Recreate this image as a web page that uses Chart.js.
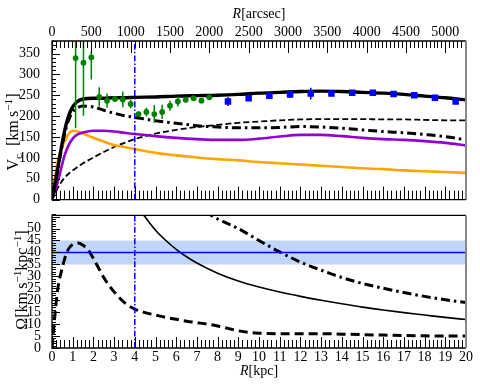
<!DOCTYPE html>
<html>
<head>
<meta charset="utf-8">
<script src="https://cdn.jsdelivr.net/npm/chart.js@4/dist/chart.umd.min.js"></script>
<style>
  html, body { margin: 0; padding: 0; background: #fff; }
  #wrap { position: relative; width: 480px; height: 392px; overflow: hidden; font-family: "Liberation Serif", serif; color: #000; }
  canvas { position: absolute; left: 0; }
  #cTop { top: 0; }
  #cBot { top: 204px; }
  .lbl { position: absolute; font-size: 14px; white-space: nowrap; line-height: 1; }
  .big { font-size: 16px; }
  .ctr { transform: translate(-50%, -50%); }
  .rot { transform: translate(-50%, -50%) rotate(-90deg); }
  sub, sup { font-size: 70%; line-height: 0; }
</style>
</head>
<body>
<div id="wrap">
  <canvas id="cTop" width="480" height="212"></canvas>
  <canvas id="cBot" width="480" height="188"></canvas>
  <div class="lbl ctr" style="left:259px;top:14px;"><i>R</i>[arcsec]</div>
  <div class="lbl ctr" style="left:259px;top:371px;"><i>R</i>[kpc]</div>
  <div class="lbl big rot" style="left:13px;top:132px;">V<sub>c</sub>&nbsp;&nbsp;[km&thinsp;s<sup>−1</sup>]</div>
  <div class="lbl big rot" style="left:22px;top:280px;">Ω[km&thinsp;s<sup>−1</sup>kpc<sup>−1</sup>]</div>
</div>
<script>
// ---- axes ----
const KPC_MAX = 20;
const ARCSEC_MAX = 5263;
const V_MAX = 380;
const OM_MAX = 55.5;
const arcsecTicks = [0, 500, 1000, 1500, 2000, 2500, 3000, 3500, 4000, 4500, 5000];
const kpcTicks = [0, 1, 2, 3, 4, 5, 6, 7, 8, 9, 10, 11, 12, 13, 14, 15, 16, 17, 18, 19, 20];
const vTicks = [0, 50, 100, 150, 200, 250, 300, 350];
const omTicks = [0, 5, 10, 15, 20, 25, 30, 35, 40, 45, 50];

// ---- rotation curve components (kpc, km/s) ----
const rV = [0, 0.1, 0.2, 0.4, 0.6, 0.8, 1.0, 1.2, 1.5, 2, 2.5, 3, 3.5, 4, 5, 6, 7, 8, 9, 10, 11, 12, 13, 14, 15, 16, 17, 18, 19, 20];
const vTotal   = [0, 25, 52, 110, 163, 200, 222, 234, 241, 243, 243, 244, 244, 245, 246, 248, 249, 250, 252, 255, 257, 259, 260, 259, 257, 255, 252, 248, 244, 239];
const vDashDot = [0, 24, 50, 105, 155, 190, 210, 219, 224, 222, 214, 207, 201, 197, 189, 183, 177, 174, 172, 172, 173, 175, 174, 171, 167, 163, 160, 156, 151, 143];
const vPurple  = [0, 12, 28, 66, 105, 130, 146, 155, 161, 165, 165, 163, 160, 157, 152, 148, 145, 143, 143, 146, 151, 155, 155, 152, 148, 145, 143, 140, 136, 130];
const vOrange  = [0, 38, 72, 115, 138, 157, 165, 164, 158, 148, 139, 131, 126, 121, 112, 106, 101, 97, 94, 90, 87, 84, 81, 78, 75, 73, 70, 68, 66, 64];
const vDashed  = [0, 10, 20, 38, 52, 62, 70, 77, 87, 101, 114, 126, 136, 145, 158, 167, 174, 179, 184, 187, 190, 192, 193, 193, 193, 192, 192, 191, 190, 190];

// ---- observed points ----
const greenArcsec = [300, 400, 500, 600, 700, 800, 900, 1000, 1100, 1200, 1300, 1400, 1500, 1600, 1700, 1800, 1900, 2000];
const greenV      = [339, 328, 341, 246, 237, 241, 240, 229, 205, 210, 205, 210, 225, 235, 239, 243, 237, 245];
const greenErrLo  = [168, 127, 53, 23, 17, 6, 19, 10, 6, 10, 21, 17, 12, 12, 6, 4, 4, 4];
const greenErrHi  = [80, 80, 15, 23, 17, 6, 19, 10, 6, 10, 21, 17, 12, 12, 6, 4, 4, 4];
const blueR   = [8.5, 9.5, 10.5, 11.5, 12.5, 13.5, 14.5, 15.5, 16.5, 17.5, 18.5, 19.5];
const blueV   = [235, 243, 249, 252, 254, 254, 256, 256, 253, 250, 244, 235];
const blueErr = [11, 4, 4, 8, 14, 4, 4, 4, 4, 4, 4, 4];

// ---- pattern speed panel (kpc, km/s/kpc) ----
const omSolidR = [4.2, 4.5, 5, 5.5, 6, 6.5, 7, 8, 9, 10, 11, 12, 13, 14, 15, 16, 17, 18, 19, 20];
const omSolid  = [58.5, 54.8, 49.3, 45, 41.3, 38.2, 35.6, 31.3, 28, 25.5, 23.4, 21.6, 20, 18.5, 17.1, 15.9, 14.8, 13.8, 12.8, 11.9];
const omDashDotR = [7.4, 8, 8.5, 9, 10, 11, 12, 13, 14, 15, 16, 17, 18, 19, 20];
const omDashDot  = [57, 54, 52, 50, 45, 40.2, 36, 32.6, 29.5, 27, 25, 23.2, 21.6, 20.2, 19];
const omDashedR = [0, 0.1, 0.2, 0.3, 0.45, 0.6, 0.8, 1.0, 1.25, 1.5, 1.75, 2.0, 2.25, 2.5, 2.75, 3.0, 3.5, 4.0, 4.5, 5, 5.5, 6, 6.5, 7, 7.5, 8, 8.5, 9, 9.5, 10, 11, 12, 13, 14, 15, 16, 17, 18, 19, 20];
const omDashed  = [0, 10, 19, 26, 32, 37, 41.5, 43.3, 43.9, 43, 41, 37.5, 33.5, 29.5, 26.3, 23.5, 19, 16.3, 14.8, 13.8, 12.8, 12, 11.2, 10.6, 10, 9.2, 8.2, 7.2, 6.5, 6.2, 6, 6, 6, 5.8, 5.6, 5.4, 5.2, 5.1, 5, 5];
const bandR = [0, 20];
const bandLo = 35, bandMid = 40, bandHi = 45;
const corotR = 4;

const pts = (xs, ys) => xs.map((x, i) => ({ x, y: ys[i] }));
const useTicks = (list) => (s) => { s.ticks = list.map((v) => ({ value: v })); };

Chart.defaults.font.family = "'Liberation Serif', serif";
Chart.defaults.font.size = 14;
Chart.defaults.color = "#000";

// inner tick marks + frame, matplotlib style
const innerTicks = {
  id: "innerTicks",
  afterDatasetsDraw(chart, args, opts) {
    const { ctx, chartArea: a } = chart;
    ctx.save();
    ctx.strokeStyle = "#000";
    ctx.lineWidth = 1;
    (opts.marks || []).forEach((m) => {
      const sc = chart.scales[m.axis];
      const n = Math.round((sc.max - sc.min) / m.minor);
      for (let i = 0; i <= n; i++) {
        const v = sc.min + i * m.minor;
        const q = v / m.major;
        const len = Math.abs(q - Math.round(q)) < 1e-6 ? m.lenMajor : m.lenMinor;
        const p = Math.round(sc.getPixelForValue(v)) + 0.5;
        ctx.beginPath();
        if (m.edge === "top") { ctx.moveTo(p, a.top); ctx.lineTo(p, a.top + len); }
        if (m.edge === "bottom") { ctx.moveTo(p, a.bottom); ctx.lineTo(p, a.bottom - len); }
        if (m.edge === "left") { ctx.moveTo(a.left, p); ctx.lineTo(a.left + len, p); }
        ctx.stroke();
      }
    });
    ctx.lineWidth = 1.3;
    ctx.beginPath();
    ctx.moveTo(a.right, a.top); ctx.lineTo(a.left, a.top);
    ctx.lineTo(a.left, a.bottom); ctx.lineTo(a.right, a.bottom);
    ctx.stroke();
    ctx.strokeStyle = "#888";
    ctx.lineWidth = 2;
    ctx.beginPath();
    ctx.moveTo(a.right, a.top); ctx.lineTo(a.right, a.bottom);
    ctx.stroke();
    ctx.restore();
  },
};

// vertical error bars for datasets carrying errLo / errHi
const errorBars = {
  id: "errorBars",
  afterDatasetDraw(chart, args) {
    const ds = chart.data.datasets[args.index];
    if (!ds.errLo) return;
    const meta = args.meta;
    const xs = meta.xScale, ys = meta.yScale, a = chart.chartArea;
    const ctx = chart.ctx;
    ctx.save();
    ctx.beginPath();
    ctx.rect(a.left, a.top, a.right - a.left, a.bottom - a.top);
    ctx.clip();
    ctx.strokeStyle = ds.backgroundColor;
    ctx.lineWidth = 1.5;
    ds.data.forEach((d, i) => {
      const x = xs.getPixelForValue(d.x);
      ctx.beginPath();
      ctx.moveTo(x, ys.getPixelForValue(d.y - ds.errLo[i]));
      ctx.lineTo(x, ys.getPixelForValue(d.y + ds.errHi[i]));
      ctx.stroke();
    });
    ctx.restore();
  },
};

const curve = (data, color, width, dash, extra) => Object.assign({
  data, borderColor: color, borderWidth: width, borderDash: dash || [],
  pointRadius: 0, fill: false, cubicInterpolationMode: "monotone",
}, extra || {});

const hideGrid = { display: false };

new Chart(document.getElementById("cTop"), {
  type: "line",
  data: {
    datasets: [
      curve(pts([corotR, corotR], [0, V_MAX]), "#0000ff", 1.5, [6, 2, 1.5, 2]),
      {
        data: pts(blueR, blueV), showLine: false, pointStyle: "rect",
        pointRadius: 4.6, backgroundColor: "#0000ff", borderWidth: 0,
        errLo: blueErr, errHi: blueErr,
      },
      {
        data: pts(greenArcsec, greenV), xAxisID: "xa", showLine: false,
        pointRadius: 2.9, backgroundColor: "#008000", borderWidth: 0,
        errLo: greenErrLo, errHi: greenErrHi,
      },
      curve(pts(rV, vTotal), "#000", 3.4),
      curve(pts(rV, vDashDot), "#000", 3, [9, 4, 2.5, 4]),
      curve(pts(rV, vPurple), "#9400d3", 2.6),
      curve(pts(rV, vOrange), "#ffa500", 2.6),
      curve(pts(rV, vDashed), "#000", 1.8, [6, 3]),
    ],
  },
  options: {
    responsive: false,
    animation: false,
    devicePixelRatio: 1,
    layout: { padding: { left: 0, right: 14, top: 0, bottom: 4 } },
    plugins: {
      legend: { display: false },
      tooltip: { enabled: false },
      innerTicks: {
        marks: [
          { axis: "xa", edge: "top", minor: 50, major: 500, lenMinor: 7, lenMajor: 12 },
          { axis: "x", edge: "bottom", minor: 0.2, major: 1, lenMinor: 9, lenMajor: 13 },
          { axis: "y", edge: "left", minor: 10, major: 50, lenMinor: 4, lenMajor: 8 },
        ],
      },
    },
    scales: {
      x: { type: "linear", position: "bottom", min: 0, max: KPC_MAX, display: false },
      xa: {
        type: "linear", position: "top", min: 0, max: ARCSEC_MAX,
        grid: hideGrid, border: { display: false },
        afterBuildTicks: useTicks(arcsecTicks),
        afterFit: (s) => { s.height = 41; },
        ticks: { padding: -8, maxRotation: 0, autoSkip: false, callback: (v) => String(v) },
      },
      y: {
        type: "linear", min: 0, max: V_MAX,
        grid: hideGrid, border: { display: false },
        afterBuildTicks: useTicks(vTicks),
        afterFit: (s) => { s.width = 52; },
        ticks: { padding: 4, callback: (v) => String(v) },
      },
    },
  },
  plugins: [innerTicks, errorBars],
});

new Chart(document.getElementById("cBot"), {
  type: "line",
  data: {
    datasets: [
      curve(pts([corotR, corotR], [0, OM_MAX]), "#0000ff", 1.5, [6, 2, 1.5, 2]),
      curve(pts(bandR, [bandMid, bandMid]), "#0000ff", 1.5),
      curve(pts(omSolidR, omSolid), "#000", 1.6),
      curve(pts(omDashDotR, omDashDot), "#000", 3, [9, 4, 2.5, 4]),
      curve(pts(omDashedR, omDashed), "#000", 3, [9, 5]),
      curve(pts(bandR, [bandHi, bandHi]), "rgba(0,0,0,0)", 0, [], {
        fill: { value: bandLo }, backgroundColor: "rgba(100,149,237,0.4)",
      }),
    ],
  },
  options: {
    responsive: false,
    animation: false,
    devicePixelRatio: 1,
    layout: { padding: { left: 0, right: 14, top: 4, bottom: 0 } },
    plugins: {
      legend: { display: false },
      tooltip: { enabled: false },
      innerTicks: {
        marks: [
          { axis: "x", edge: "bottom", minor: 0.2, major: 1, lenMinor: 8, lenMajor: 11 },
          { axis: "y", edge: "left", minor: 1, major: 5, lenMinor: 4, lenMajor: 8 },
        ],
      },
    },
    scales: {
      x: {
        type: "linear", position: "bottom", min: 0, max: KPC_MAX,
        grid: hideGrid, border: { display: false },
        afterBuildTicks: useTicks(kpcTicks),
        afterFit: (s) => { s.height = 44; },
        ticks: { padding: -7, maxRotation: 0, autoSkip: false, callback: (v) => String(v) },
      },
      y: {
        type: "linear", min: 0, max: OM_MAX,
        grid: hideGrid, border: { display: false },
        afterBuildTicks: useTicks(omTicks),
        afterFit: (s) => { s.width = 52; },
        ticks: { padding: 3, autoSkip: false, callback: (v) => String(v) },
      },
    },
  },
  plugins: [innerTicks],
});
</script>
</body>
</html>
